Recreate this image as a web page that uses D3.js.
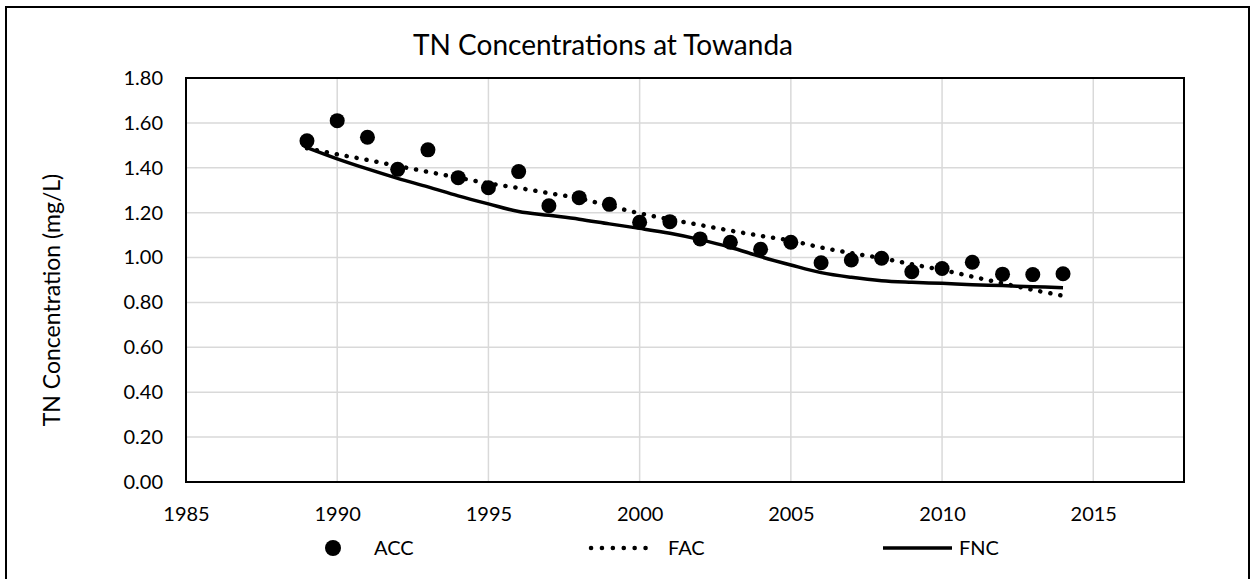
<!DOCTYPE html>
<html>
<head>
<meta charset="utf-8">
<script src="https://cdn.jsdelivr.net/npm/d3@7"></script>
<style>
  body { margin: 0; background: #fff; }
  text { font-family: Lato, "Open Sans", sans-serif; fill: #000; }
</style>
</head>
<body>
<div id="chart"></div>
<script>
const years = [1989, 1990, 1991, 1992, 1993, 1994, 1995, 1996, 1997, 1998, 1999, 2000, 2001,
               2002, 2003, 2004, 2005, 2006, 2007, 2008, 2009, 2010, 2011, 2012, 2013, 2014];
const acc = [1.52, 1.61, 1.536, 1.393, 1.48, 1.356, 1.311, 1.383, 1.231, 1.267, 1.237, 1.157, 1.16,
             1.083, 1.068, 1.037, 1.068, 0.977, 0.989, 0.997, 0.937, 0.951, 0.979, 0.926, 0.924, 0.928];
const fac = [1.487, 1.46, 1.435, 1.408, 1.382, 1.356, 1.331, 1.31, 1.287, 1.264, 1.23, 1.197, 1.17,
             1.145, 1.12, 1.097, 1.075, 1.045, 1.02, 0.997, 0.97, 0.945, 0.915, 0.885, 0.856, 0.83];
const fnc = [1.49, 1.44, 1.395, 1.353, 1.315, 1.275, 1.239, 1.205, 1.188, 1.171, 1.15, 1.13, 1.108,
             1.08, 1.046, 1.004, 0.967, 0.933, 0.912, 0.897, 0.89, 0.885, 0.879, 0.875, 0.87, 0.866];
const xTicks = [1985, 1990, 1995, 2000, 2005, 2010, 2015];
const yTicks = [0, 0.2, 0.4, 0.6, 0.8, 1.0, 1.2, 1.4, 1.6, 1.8];
const seriesNames = ["ACC", "FAC", "FNC"];

const width = 1254, height = 579;
const plot = { left: 186, top: 78, right: 1184, bottom: 482 };

const svg = d3.select("#chart").append("svg")
    .attr("width", width)
    .attr("height", height);

// cadre extérieur
svg.append("rect")
    .attr("x", 6).attr("y", 7)
    .attr("width", 1243).attr("height", 600)
    .attr("fill", "none").attr("stroke", "#000").attr("stroke-width", 2);

const x = d3.scaleLinear().domain([1985, 2018]).range([plot.left, plot.right]);
const y = d3.scaleLinear().domain([0, 1.8]).range([plot.bottom, plot.top]);

// grille
svg.append("g")
    .selectAll("line.h")
    .data(yTicks.slice(1))
    .join("line")
    .attr("x1", plot.left).attr("x2", plot.right)
    .attr("y1", d => y(d)).attr("y2", d => y(d))
    .attr("stroke", "#d9d9d9").attr("stroke-width", 1.5);

svg.append("g")
    .selectAll("line.v")
    .data(xTicks.slice(1))
    .join("line")
    .attr("x1", d => x(d)).attr("x2", d => x(d))
    .attr("y1", plot.top).attr("y2", plot.bottom)
    .attr("stroke", "#d9d9d9").attr("stroke-width", 1.5);

// axes (labels only, Excel style)
const yAxis = svg.append("g")
    .attr("transform", `translate(${plot.left},0)`)
    .call(d3.axisLeft(y).tickValues(yTicks).tickFormat(d3.format(".2f")).tickSize(0).tickPadding(23));
yAxis.select(".domain").remove();
yAxis.selectAll("text").style("font-size", "20px").style("font-family", "Lato");

const xAxis = svg.append("g")
    .attr("transform", `translate(0,${plot.bottom})`)
    .call(d3.axisBottom(x).tickValues(xTicks).tickFormat(d3.format("d")).tickSize(0).tickPadding(25));
xAxis.select(".domain").remove();
xAxis.selectAll("text").style("font-size", "20px").style("font-family", "Lato");

// lignes
const smooth = d3.line().x((d, i) => x(years[i])).y(d => y(d)).curve(d3.curveCatmullRom.alpha(0.5));

svg.append("path")
    .datum(fnc)
    .attr("d", smooth)
    .attr("fill", "none").attr("stroke", "#000").attr("stroke-width", 3.5);

svg.append("path")
    .datum(fac)
    .attr("d", smooth)
    .attr("fill", "none").attr("stroke", "#000").attr("stroke-width", 4.5)
    .attr("stroke-linecap", "round").attr("stroke-dasharray", "0.1,10");

svg.append("g")
    .selectAll("circle")
    .data(acc)
    .join("circle")
    .attr("cx", (d, i) => x(years[i]))
    .attr("cy", d => y(d))
    .attr("r", 7.5)
    .attr("fill", "#000");

// bordure de la zone de tracé
svg.append("rect")
    .attr("x", plot.left).attr("y", plot.top)
    .attr("width", plot.right - plot.left).attr("height", plot.bottom - plot.top)
    .attr("fill", "none").attr("stroke", "#000").attr("stroke-width", 2);

// titre
svg.append("text")
    .attr("x", 603).attr("y", 55)
    .attr("text-anchor", "middle")
    .style("font-size", "28px")
    .text("TN Concentrations at Towanda");

svg.append("text")
    .attr("transform", "translate(60,300) rotate(-90)")
    .attr("text-anchor", "middle")
    .style("font-size", "23px")
    .text("TN Concentration (mg/L)");

// légende
const legY = 548;
const leg = svg.append("g");
leg.append("circle").attr("cx", 333).attr("cy", legY).attr("r", 8).attr("fill", "#000");
leg.append("text").attr("x", 374).attr("y", legY + 7).style("font-size", "20px").text(seriesNames[0]);

leg.append("line").attr("x1", 591).attr("x2", 656).attr("y1", legY).attr("y2", legY)
    .attr("stroke", "#000").attr("stroke-width", 4.5)
    .attr("stroke-linecap", "round").attr("stroke-dasharray", "0.1,10.8");
leg.append("text").attr("x", 668).attr("y", legY + 7).style("font-size", "20px").text(seriesNames[1]);

leg.append("line").attr("x1", 883).attr("x2", 952).attr("y1", legY).attr("y2", legY)
    .attr("stroke", "#000").attr("stroke-width", 3.5);
leg.append("text").attr("x", 959).attr("y", legY + 7).style("font-size", "20px").text(seriesNames[2]);
</script>
</body>
</html>
